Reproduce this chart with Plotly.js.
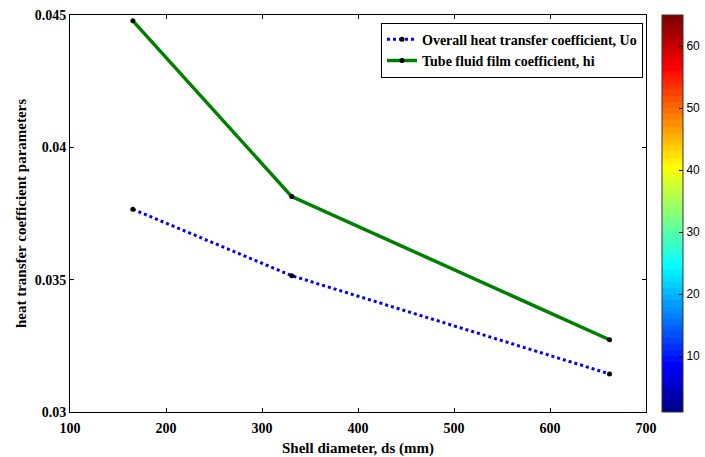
<!DOCTYPE html>
<html>
<head>
<meta charset="utf-8">
<script src="https://cdn.plot.ly/plotly-3.0.1.min.js"></script>
<style>html,body{margin:0;padding:0;background:#fff;}#chart{width:705px;height:457px;}</style>
</head>
<body>
<div id="chart"></div>
<script>
// ---- data ----
var shellDiameter = [165.5, 331, 662];
var overallU = [0.03766, 0.03515, 0.03144];
var tubeHi = [0.04478, 0.03814, 0.03273];
var seriesNames = ['Overall heat transfer coefficient, Uo', 'Tube fluid film coefficient, hi'];
var xTicks = [100, 200, 300, 400, 500, 600, 700];
var yTicks = [0.03, 0.035, 0.04, 0.045];
var yTickLabels = ['0.03', '0.035', '0.04', '0.045'];
var cbarRange = [1, 65];
var cbarTicks = [10, 20, 30, 40, 50, 60];

// MATLAB-style jet(64) colormap (stepped)
function jetScale(m) {
  var n = Math.ceil(m / 4), u = [], i;
  for (i = 1; i <= n; i++) u.push(i / n);
  for (i = 1; i < n; i++) u.push(1);
  for (i = n; i >= 1; i--) u.push(i / n);
  var R = [], G = [], B = [];
  for (i = 0; i <= m; i++) { R[i] = 0; G[i] = 0; B[i] = 0; }
  var off = Math.ceil(n / 2) - (m % 4 === 1 ? 1 : 0);
  for (var k = 1; k <= u.length; k++) {
    var gi = off + k, ri = gi + n, bi = gi - n;
    if (ri <= m) R[ri] = u[k - 1];
    if (gi <= m) G[gi] = u[k - 1];
    if (bi >= 1) B[bi] = u[k - 1];
  }
  var cs = [];
  for (i = 1; i <= m; i++) {
    var c = 'rgb(' + Math.round(R[i] * 255) + ',' + Math.round(G[i] * 255) + ',' + Math.round(B[i] * 255) + ')';
    cs.push([(i - 1) / m, c]);
    cs.push([i / m, c]);
  }
  return cs;
}

var serif = 'Liberation Serif, Times New Roman, serif';

var traces = [
  {
    x: shellDiameter, y: overallU, name: seriesNames[0], type: 'scatter', mode: 'lines+markers',
    line: {color: 'rgb(0,0,255)', width: 3, dash: 'dot'},
    marker: {color: 'black', size: 5}
  },
  {
    x: shellDiameter, y: tubeHi, name: seriesNames[1], type: 'scatter', mode: 'lines+markers',
    line: {color: 'rgb(0,128,0)', width: 3.5},
    marker: {color: 'black', size: 5}
  },
  {
    x: [shellDiameter[1]], y: [overallU[1]], type: 'scatter', mode: 'markers', showlegend: false,
    hoverinfo: 'skip',
    marker: {
      opacity: 0, size: 1, color: [cbarRange[0]], cmin: cbarRange[0], cmax: cbarRange[1],
      colorscale: jetScale(64), showscale: true,
      colorbar: {
        x: 662 / 705, xanchor: 'left', xref: 'container', y: 0.5, yanchor: 'middle',
        len: 1, lenmode: 'fraction', thickness: 21, thicknessmode: 'pixels',
        xpad: 0, ypad: 0, outlinewidth: 1, outlinecolor: '#333',
        tickvals: cbarTicks, ticks: 'inside', ticklen: 4, tickcolor: '#000',
        tickfont: {family: 'Liberation Sans, Arial, sans-serif', size: 12, color: '#000'}
      }
    }
  }
];

var axisCommon = {
  showline: true, linecolor: '#000', linewidth: 1, mirror: 'ticks',
  ticks: 'inside', ticklen: 4, tickcolor: '#000', tickwidth: 1,
  showgrid: false, zeroline: false, automargin: false,
  tickfont: {family: serif, size: 14, color: '#000', weight: 'bold'}
};

var layout = {
  width: 705, height: 457,
  margin: {l: 70, r: 59, t: 15, b: 45},
  paper_bgcolor: '#fff', plot_bgcolor: '#fff',
  showlegend: true,
  xaxis: Object.assign({}, axisCommon, {
    range: [100, 700], tickvals: xTicks, ticklabelstandoff: 3,
    title: {text: 'Shell diameter, ds (mm)', font: {family: serif, size: 15, color: '#000', weight: 'bold'}, standoff: 7}
  }),
  yaxis: Object.assign({}, axisCommon, {
    range: [0.03, 0.045], tickvals: yTicks, ticktext: yTickLabels,
    title: {text: 'heat transfer coefficient parameters', font: {family: serif, size: 15, color: '#000', weight: 'bold'}, standoff: 4}
  }),
  legend: {
    x: 0.9948, xanchor: 'right', y: 0.9806, yanchor: 'top',
    bgcolor: '#fff', bordercolor: '#000', borderwidth: 1,
    font: {family: serif, size: 14, color: '#000', weight: 'bold'}
  }
};

Plotly.newPlot('chart', traces, layout, {displayModeBar: false, staticPlot: true});
</script>
</body>
</html>
